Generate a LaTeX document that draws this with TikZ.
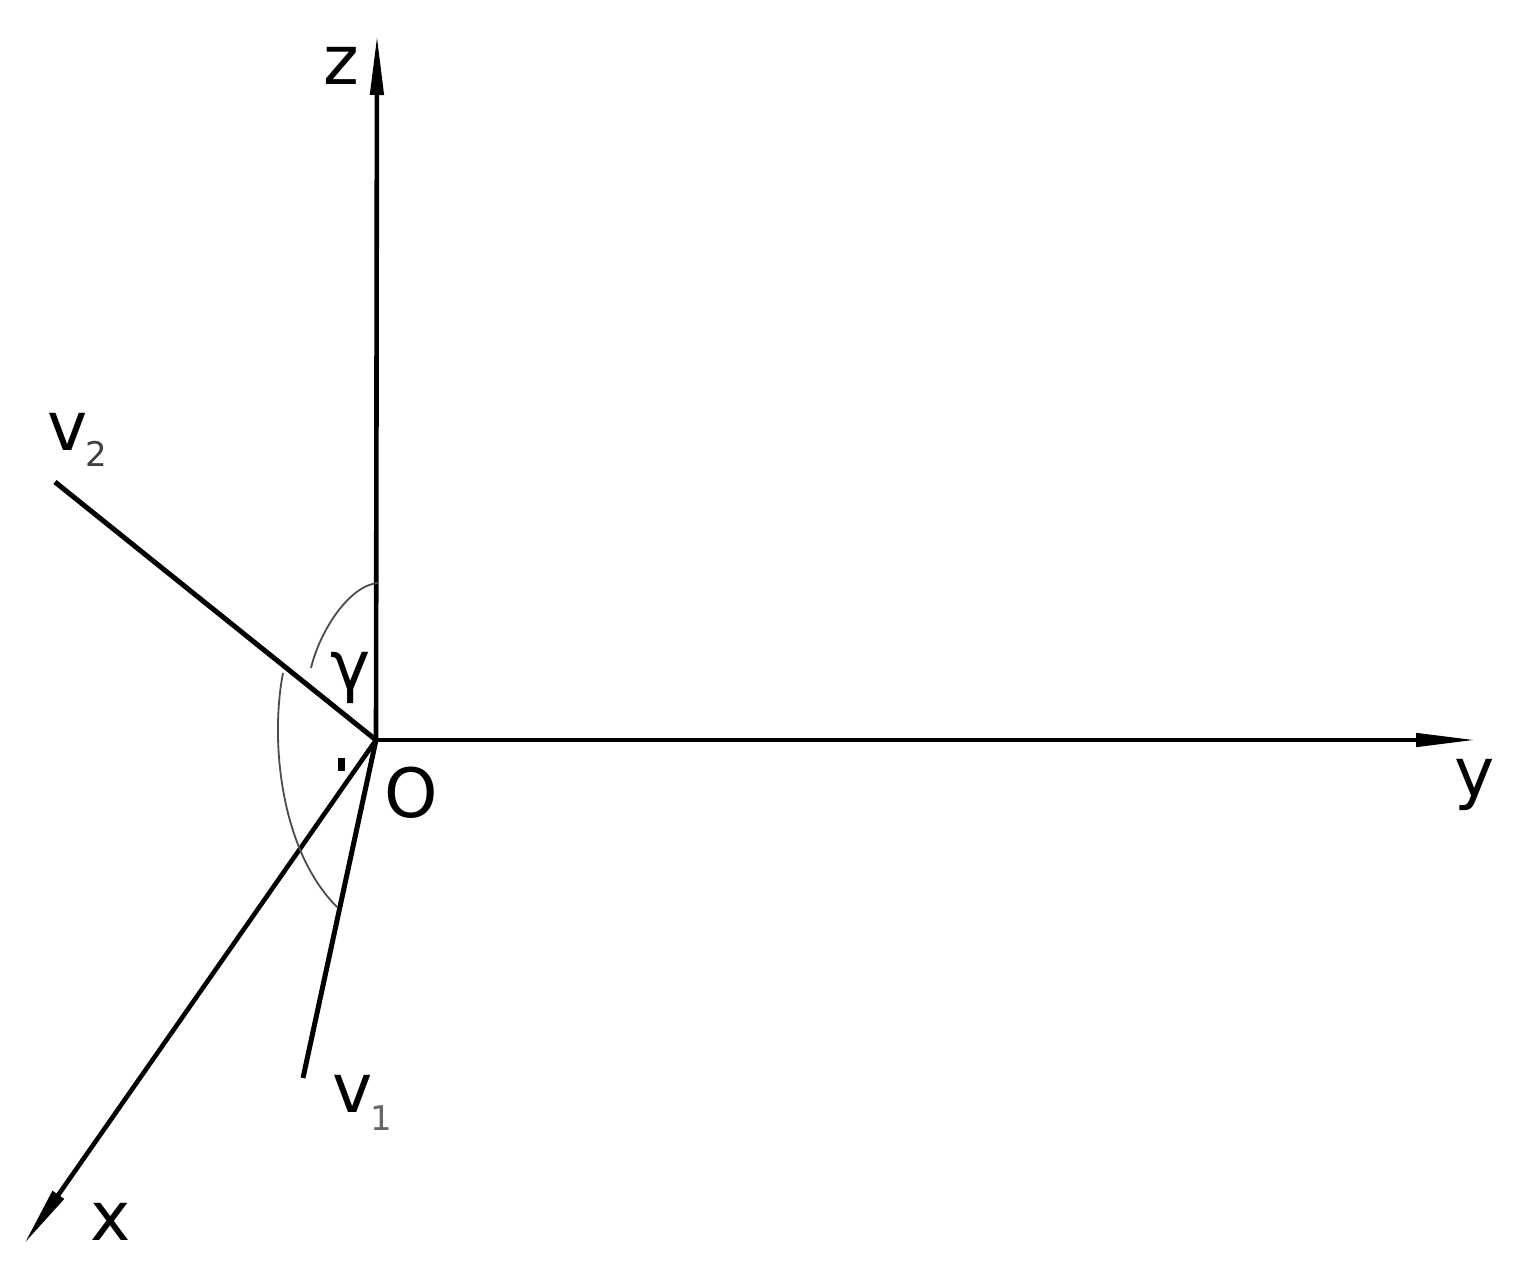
\documentclass[tikz,border=0pt]{standalone}
\usepackage{fontspec}
\setmainfont{DejaVu Sans}
\usetikzlibrary{arrows.meta}
\begin{document}
\begin{tikzpicture}[x=0.5pt,y=-0.5pt,
  axis/.style={line width=2.3pt,-{Triangle[length=30pt,width=6.5pt]}},
  vec/.style={line width=2.5pt},
  anglearc/.style={line width=0.9pt,black!70},
  lbl/.style={inner sep=0pt,font=\fontsize{34}{40}\selectfont}]
\useasboundingbox (0,0) rectangle (1514,1273);
\coordinate (O) at (376,740);
\coordinate (zend) at (377,35);
\coordinate (yend) at (1476,740);
\coordinate (xend) at (24,1244);
\coordinate (v2end) at (55,482);
\coordinate (v1end) at (303,1078);
\draw[axis] (O) -- (zend);
\draw[axis] (O) -- (yend);
\draw[axis] (O) -- (xend);
\draw[vec] (O) -- (v2end);
\draw[vec] (O) -- (v1end);
\draw[anglearc] (378,583) .. controls (350,585) and (320,630) .. (311,668);
\draw[anglearc] (283,673) .. controls (270,740) and (280,850) .. (337,907);
\fill (338,758) rectangle (345,771);
\node[lbl] (zl) at (341,66) {z};
\node[lbl] (yl) at (1475,785) {y};
\node[lbl] (xl) at (111,1222) {x};
\node[lbl] (Ol) at (411,793) {O};
\node[lbl] (gl) at (351,678) {γ};
\node[lbl,anchor=base west] (v2l) at (47,450) {v\raisebox{-8pt}{\kern-1pt\color{black!75}\fontsize{17}{20}\selectfont 2}};
\node[lbl,anchor=base west] (v1l) at (332,1112) {v\raisebox{-9pt}{\kern-1pt\color{black!60}\fontsize{17}{20}\selectfont 1}};
\end{tikzpicture}
\end{document}
